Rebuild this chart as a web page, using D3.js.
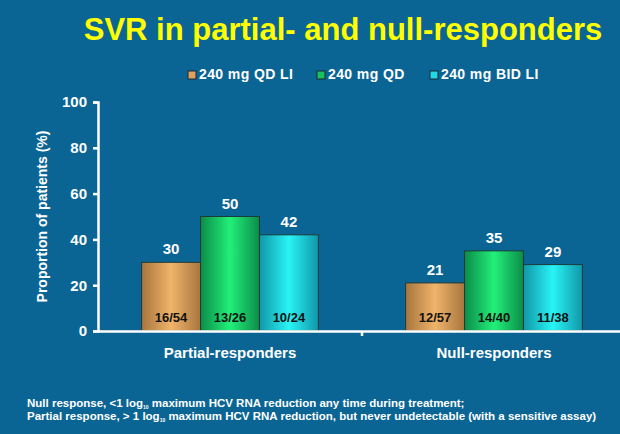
<!DOCTYPE html>
<html>
<head>
<meta charset="utf-8">
<script src="https://cdn.jsdelivr.net/npm/d3@7"></script>
<style>
  body { margin: 0; background: #0b6594; }
  svg { display: block; font-family: Arial, "Liberation Sans", sans-serif; font-weight: bold; }
</style>
</head>
<body>
<div id="chart"></div>
<script>
// SVR in partial- and null-responders

const groups = ['Partial-responders', 'Null-responders'];
const seriesNames = ['240 mg QD LI', '240 mg QD', '240 mg BID LI'];
const svrValues = [
    [30, 50, 42],
    [21, 35, 29]
];
const fractions = [
    ['16/54', '13/26', '10/24'],
    ['12/57', '14/40', '11/38']
];
const yTicks = [0, 20, 40, 60, 80, 100];

const width = 620, height = 434;
const margin = { top: 102, bottom: 103, left: 98, right: -6 };

// gradient stops: edge, centre
const barColors = [
    ['#a8753e', '#f0b46a'],
    ['#0b8c48', '#22f07a'],
    ['#1196a8', '#28f4f6']
];
const legendColors = ['#e0a060', '#18c060', '#20d8e8'];

const svg = d3.select('#chart')
    .append('svg')
    .attr('width', width)
    .attr('height', height);

svg.append('rect')
    .attr('width', width)
    .attr('height', height)
    .attr('fill', '#0b6594');

const defs = svg.append('defs');
barColors.forEach((c, i) => {
    const g = defs.append('linearGradient')
        .attr('id', `grad${i}`)
        .attr('x1', '0%').attr('x2', '100%')
        .attr('y1', '0%').attr('y2', '0%');
    g.append('stop').attr('offset', '0%').attr('stop-color', c[0]);
    g.append('stop').attr('offset', '50%').attr('stop-color', c[1]);
    g.append('stop').attr('offset', '100%').attr('stop-color', c[0]);
});

// Title
svg.append('text')
    .attr('x', 343)
    .attr('y', 40)
    .attr('text-anchor', 'middle')
    .attr('fill', '#ffff00')
    .style('font-size', '31px')
    .text('SVR in partial- and null-responders');

// Scales
const x0 = d3.scaleBand()
    .domain(groups)
    .range([margin.left, width - margin.right])
    .paddingInner(0)
    .paddingOuter(0);

const x1 = d3.scaleBand()
    .domain(d3.range(seriesNames.length))
    .range([0, x0.bandwidth()])
    .paddingInner(0)
    .paddingOuter(0.74);

const y = d3.scaleLinear()
    .domain([0, 100])
    .range([height - margin.bottom, margin.top]);

// Legend
const legendX = [188, 317, 430];
const legend = svg.append('g');
seriesNames.forEach((name, i) => {
    const g = legend.append('g').attr('transform', `translate(${legendX[i]}, 79)`);
    g.append('rect')
        .attr('x', 0).attr('y', -8)
        .attr('width', 8).attr('height', 8)
        .attr('fill', legendColors[i])
        .attr('stroke', '#1a2a30')
        .attr('stroke-width', 1);
    g.append('text')
        .attr('x', 11)
        .attr('y', 0)
        .attr('fill', 'white')
        .style('font-size', '14px')
        .style('letter-spacing', '0.4px')
        .text(name);
});

// Bars
groups.forEach((grp, gi) => {
    const g = svg.append('g').attr('transform', `translate(${x0(grp)}, 0)`);
    g.selectAll('rect')
        .data(svrValues[gi])
        .join('rect')
        .attr('x', (d, i) => x1(i))
        .attr('y', d => y(d))
        .attr('width', x1.bandwidth())
        .attr('height', d => y(0) - y(d))
        .attr('fill', (d, i) => `url(#grad${i})`)
        .attr('stroke', '#1c3a3a')
        .attr('stroke-width', 1);

    g.selectAll('text.val')
        .data(svrValues[gi])
        .join('text')
        .attr('class', 'val')
        .attr('x', (d, i) => x1(i) + x1.bandwidth() / 2)
        .attr('y', d => y(d) - 8)
        .attr('text-anchor', 'middle')
        .attr('fill', 'white')
        .style('font-size', '15px')
        .text(d => d);

    g.selectAll('text.frac')
        .data(fractions[gi])
        .join('text')
        .attr('class', 'frac')
        .attr('x', (d, i) => x1(i) + x1.bandwidth() / 2)
        .attr('y', y(0) - 9)
        .attr('text-anchor', 'middle')
        .attr('fill', '#111')
        .style('font-size', '13px')
        .text(d => d);
});

// Axes
const axisY = svg.append('g')
    .attr('transform', `translate(${margin.left}, 0)`)
    .call(d3.axisLeft(y).tickValues(yTicks).tickSize(5).tickPadding(6));

const axisX = svg.append('g')
    .attr('transform', `translate(0, ${y(0)})`)
    .call(d3.axisBottom(x0).tickSize(0).tickPadding(16));

[axisY, axisX].forEach(a => {
    a.select('.domain').attr('stroke', 'white').attr('stroke-width', 2.5);
    a.selectAll('.tick line').attr('stroke', 'white').attr('stroke-width', 2.5);
    a.selectAll('.tick text')
        .attr('fill', 'white')
        .style('font-size', '15px')
        .style('font-family', 'Arial, "Liberation Sans", sans-serif')
        .style('font-weight', 'bold');
});

// separator tick between groups
axisX.append('line')
    .attr('x1', x0(groups[1])).attr('x2', x0(groups[1]))
    .attr('y1', 0).attr('y2', 5)
    .attr('stroke', 'white')
    .attr('stroke-width', 2.5);

// Y axis title
svg.append('text')
    .attr('transform', `translate(47, ${(y(0) + y(100)) / 2}) rotate(-90)`)
    .attr('text-anchor', 'middle')
    .attr('fill', 'white')
    .style('font-size', '14px')
    .text('Proportion of patients (%)');

// Footnote (log10 with a small subscript)
const footnote = svg.append('g').attr('fill', 'white').style('font-size', '11.5px');
function footLine(yPos, before, after) {
    const t = footnote.append('text').attr('x', 27).attr('y', yPos);
    t.append('tspan').text(before);
    t.append('tspan').attr('dy', 1.5).style('font-size', '5px').text('10');
    t.append('tspan').attr('dy', -1.5).text(after);
}
footLine(407, 'Null response, <1 log', ' maximum HCV RNA reduction any time during treatment;');
footLine(420, 'Partial response, > 1 log', ' maximum HCV RNA reduction, but never undetectable (with a sensitive assay)');
</script>
</body>
</html>
